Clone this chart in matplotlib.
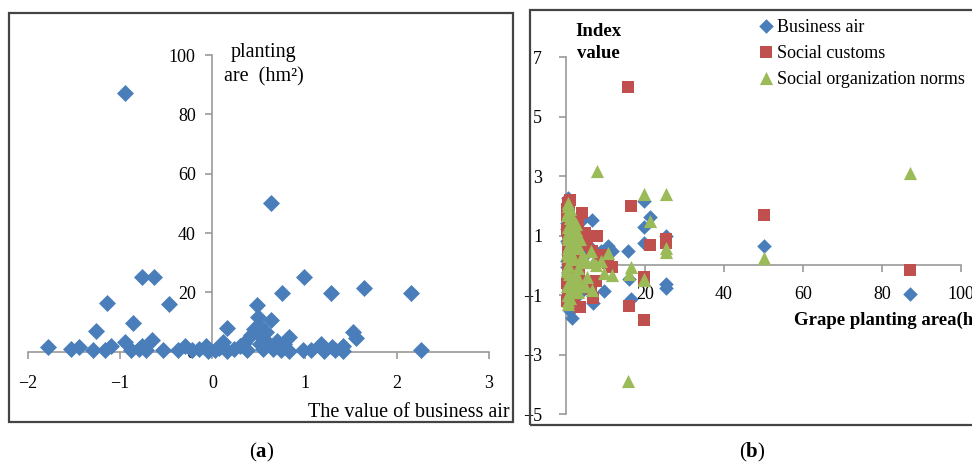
import matplotlib
matplotlib.use("Agg")
import matplotlib.pyplot as plt
from matplotlib.patches import Rectangle

plt.rcParams['font.family'] = ['Liberation Serif', 'DejaVu Serif']
plt.rcParams['mathtext.fontset'] = 'custom'
plt.rcParams['mathtext.rm'] = 'Liberation Serif'
plt.rcParams['mathtext.bf'] = 'Liberation Serif:bold'

# ---- data: one entry per farm ----
area = [1.7, 1.0, 1.5, 0.5, 7.0, 0.5, 1.8, 16.5, 87.1, 3.4,
        0.5, 9.6, 0.8, 2.0, 25.3, 0.5, 4.0, 25.3, 0.5, 16.1,
        0.5, 2.0, 0.6, 1.0, 2.0, 0.4, 0.6, 1.2, 3.4, 7.9,
        0.4, 1.0, 2.0, 3.0, 0.5, 5.5, 7.6, 15.7, 11.8, 9.0,
        2.5, 5.0, 0.8, 6.5, 3.0, 10.7, 50.2, 1.0, 3.5, 0.5,
        19.9, 2.5, 4.8, 0.3, 25.3, 0.5, 0.5, 2.5, 0.3, 19.7,
        1.5, 0.5, 2.0, 0.3, 6.7, 4.5, 21.4, 19.7, 0.5]
business_air = [-1.78, -1.53, -1.45, -1.29, -1.26, -1.17, -1.10, -1.14, -0.95, -0.95,
                -0.88, -0.86, -0.80, -0.76, -0.76, -0.72, -0.65, -0.63, -0.54, -0.47,
                -0.37, -0.30, -0.22, -0.14, -0.07, -0.05, 0.03, 0.07, 0.12, 0.16,
                0.16, 0.23, 0.30, 0.34, 0.37, 0.42, 0.45, 0.48, 0.49, 0.50,
                0.52, 0.53, 0.55, 0.58, 0.60, 0.64, 0.64, 0.66, 0.70, 0.74,
                0.76, 0.78, 0.83, 0.83, 0.99, 0.98, 1.07, 1.18, 1.21, 1.29,
                1.30, 1.33, 1.42, 1.42, 1.52, 1.56, 1.64, 2.15, 2.26]
social_customs = [0.2, 1.4, -0.8, 2.1, -1.1, 0.6, -1.3, 2.0, -0.17, 0.9,
                  -0.4, 0.36, 1.8, -1.0, 0.9, 1.0, 1.76, 0.75, -1.2, -1.35,
                  0.0, 1.3, -0.6, 0.5, -0.2, 1.9, -0.9, 0.8, -0.3, 1.0,
                  1.2, -1.1, 0.3, 1.5, -0.7, 0.7, -0.54, 6.0, -0.05, 0.2,
                  -0.5, 1.1, 0.1, -0.8, 0.6, 0.08, 1.7, 2.2, -1.4, 0.4,
                  -0.5, -0.1, 0.9, -0.6, 0.85, 1.6, -0.9, 0.5, 1.7, -1.85,
                  -0.3, 1.1, 0.0, -1.2, 0.5, -0.6, 0.7, -0.4, 1.3]
social_norms = [-0.9, 0.5, 1.2, -1.2, 0.1, 1.8, 0.8, -0.05, 3.1, -0.6,
                2.1, -0.26, -0.3, 1.5, 2.4, -1.0, 0.3, 0.6, 0.9, -0.3,
                1.3, -0.8, 0.0, 1.6, -0.5, 0.4, 1.0, -1.1, 0.6, 3.17,
                -0.2, 1.9, 0.2, -0.9, 1.1, -0.4, 0.0, -3.9, -0.31, 0.15,
                1.4, -0.7, 0.7, 0.5, -0.1, 0.42, 0.25, -0.6, 0.9, 2.0,
                -0.5, -0.3, 0.2, 1.7, 0.45, -1.3, 0.3, 1.2, -0.7, 2.4,
                0.7, -1.0, 1.0, -0.1, -0.83, 0.1, 1.5, -0.45, 0.6]

a_xticks = [-2, -1, 0, 1, 2, 3]
a_yticks = [0, 20, 40, 60, 80, 100]
b_xticks = [0, 20, 40, 60, 80, 100]
b_yticks = [-5, -3, -1, 1, 3, 5, 7]
legend_labels = ['Business air', 'Social customs', 'Social organization norms']

BLUE = '#4A7EBB'
RED = '#C0504D'
GREEN = '#9BBB59'
SPINE = '#9A9A9A'

W, H = 972, 465
fig = plt.figure(figsize=(W / 100, H / 100), dpi=100)

def fx(px):
    return px / W

def fy(py):
    return 1 - py / H

# frames
fig.patches.append(Rectangle((fx(9), fy(422)), fx(513 - 9), (422 - 13) / H,
                             transform=fig.transFigure, fill=False,
                             edgecolor='#444444', lw=1.6))
fig.patches.append(Rectangle((fx(530), fy(425)), fx(975 - 530), (425 - 10) / H,
                             transform=fig.transFigure, fill=False,
                             edgecolor='#444444', lw=1.6))

# ---- panel (a) ----
axa = fig.add_axes([fx(28), fy(351.7), fx(489 - 28), (351.7 - 55) / H])
axa.scatter(business_air, area, marker='D', s=75, color=BLUE, lw=0,
            clip_on=False, zorder=3)
axa.set_xlim(-2, 3)
axa.set_ylim(0, 100)
axa.spines['left'].set_position(('data', 0))
axa.spines['bottom'].set_position(('data', 0))
for s in ['top', 'right']:
    axa.spines[s].set_visible(False)
for s in ['left', 'bottom']:
    axa.spines[s].set_color(SPINE)
    axa.spines[s].set_linewidth(1.2)
axa.set_xticks(a_xticks)
axa.set_yticks(a_yticks)
axa.set_xticklabels([str(v).replace('-', '\u2212') for v in a_xticks])
axa.set_yticklabels([str(v) for v in a_yticks])
axa.tick_params(axis='both', direction='out', length=5, width=1.2,
                color=SPINE, labelsize=13)
axa.tick_params(axis='x', pad=12)
axa.tick_params(axis='y', pad=7)
axa.patch.set_visible(False)

fig.text(fx(263), fy(52), 'planting', ha='center', va='center', fontsize=14.5)
fig.text(fx(264), fy(77), 'are  (hm\u00b2)', ha='center', va='center', fontsize=14.5)
fig.text(fx(510), fy(412), 'The value of business air', ha='right',
         va='center', fontsize=14.5)

# ---- panel (b) ----
axb = fig.add_axes([fx(565.7), fy(414), fx(961 - 565.7), (414 - 57.3) / H])
axb.scatter(area, business_air, marker='D', s=55, color=BLUE, lw=0,
            clip_on=False, zorder=3, label=legend_labels[0])
axb.scatter(area, social_customs, marker='s', s=75, color=RED, lw=0,
            clip_on=False, zorder=4, label=legend_labels[1])
axb.scatter(area, social_norms, marker='^', s=90, color=GREEN, lw=0,
            clip_on=False, zorder=5, label=legend_labels[2])
axb.set_xlim(0, 100)
axb.set_ylim(-5, 7)
axb.spines['bottom'].set_position(('data', 0))
for s in ['top', 'right']:
    axb.spines[s].set_visible(False)
for s in ['left', 'bottom']:
    axb.spines[s].set_color(SPINE)
    axb.spines[s].set_linewidth(1.2)
axb.set_xticks(b_xticks)
axb.set_yticks(b_yticks)
axb.set_xticklabels([str(v) for v in b_xticks])
axb.set_yticklabels([str(v).replace('-', '\u2212') for v in b_yticks])
axb.tick_params(axis='both', direction='out', length=5, width=1.2,
                color=SPINE, labelsize=13)
axb.tick_params(axis='x', pad=10)
axb.tick_params(axis='y', pad=12)
axb.patch.set_visible(False)

fig.text(fx(575), fy(31), 'Index', ha='left', va='center', fontsize=13.5,
         fontweight='bold')
fig.text(fx(577), fy(53), 'value', ha='left', va='center', fontsize=13.5,
         fontweight='bold')
fig.text(fx(794), fy(320), 'Grape planting area(hm\u00b2)', ha='left',
         va='center', fontsize=13.5, fontweight='bold')

leg = axb.legend(loc='upper left', bbox_to_anchor=(fx(760), fy(19)),
                 bbox_transform=fig.transFigure, frameon=False,
                 handlelength=0.7, handletextpad=0.25, labelspacing=0.5,
                 borderpad=0, borderaxespad=0, fontsize=13, scatteryoffsets=[0.5])

fig.text(fx(262), fy(452), r'($\mathbf{a}$)', ha='center', va='center', fontsize=15)
fig.text(fx(752), fy(452), r'($\mathbf{b}$)', ha='center', va='center', fontsize=15)

fig.savefig('out.png', dpi=100)
